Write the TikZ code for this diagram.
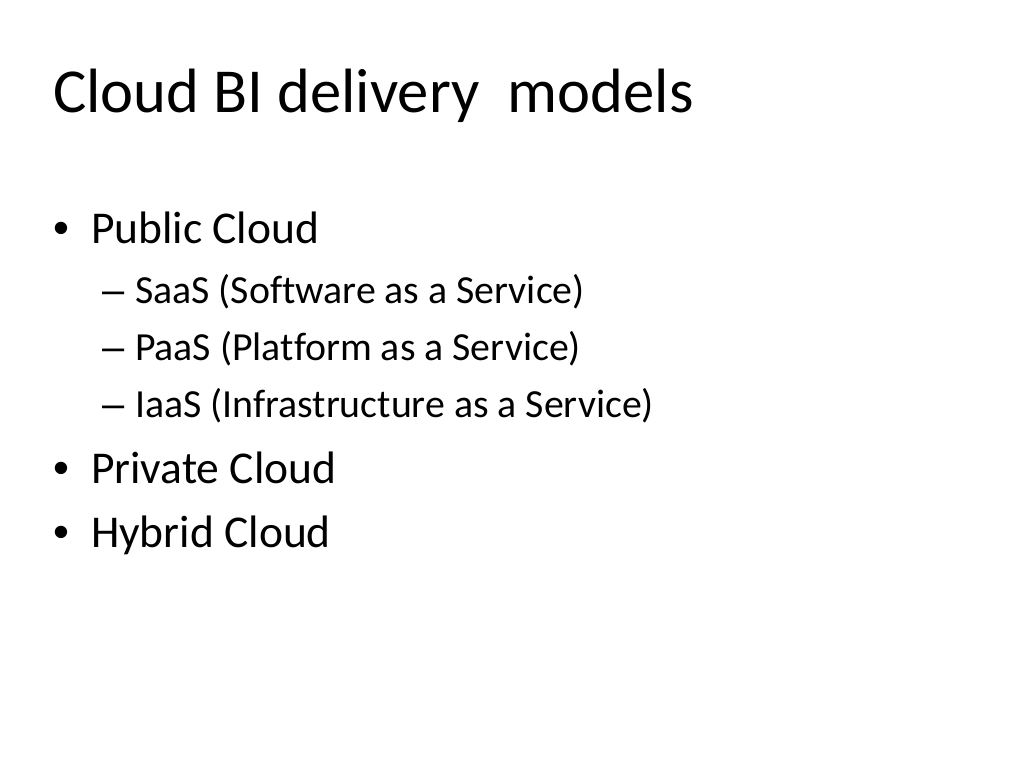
\documentclass[tikz,border=0pt]{standalone}
\usepackage{fontspec}
\setmainfont[Ligatures={NoCommon}]{Carlito}
\newfontfamily\bulfont{Liberation Sans}
\begin{document}
\begin{tikzpicture}[x=0.703125pt,y=-0.703125pt,
  txt/.style={anchor=base west,inner sep=0pt,outer sep=0pt,text=black},
  ttl/.style={txt,font=\fontsize{44}{44}\selectfont},
  lvlone/.style={txt,font=\fontsize{32}{32}\selectfont},
  lvltwo/.style={txt,font=\fontsize{28}{28}\selectfont},
  bul/.style={txt,font=\bulfont\fontsize{32}{32}\selectfont},
  dsh/.style={txt,font=\bulfont\fontsize{28}{28}\selectfont}]
\fill[white] (0,0) rectangle (1024,768);
\useasboundingbox (0,0) rectangle (1024,768);
\node[ttl] (title) at (53,113) {Cloud BI delivery\ \ models};
\node[bul] (b1) at (53,244) {•};
\node[lvlone] (t1) at (91,244) {Public Cloud};
\node[dsh] (d1) at (102,303) {–};
\node[lvltwo] (s1) at (135,303) {SaaS (Software as a Service)};
\node[dsh] (d2) at (102,360) {–};
\node[lvltwo] (s2) at (135,360) {PaaS (Platform as a Service)};
\node[dsh] (d3) at (102,417) {–};
\node[lvltwo] (s3) at (135,417) {IaaS (Infrastructure as a Service)};
\node[bul] (b2) at (53,483) {•};
\node[lvlone] (t2) at (91,483) {Private Cloud};
\node[bul] (b3) at (53,547) {•};
\node[lvlone] (t3) at (91,547) {Hybrid Cloud};
\end{tikzpicture}
\end{document}
